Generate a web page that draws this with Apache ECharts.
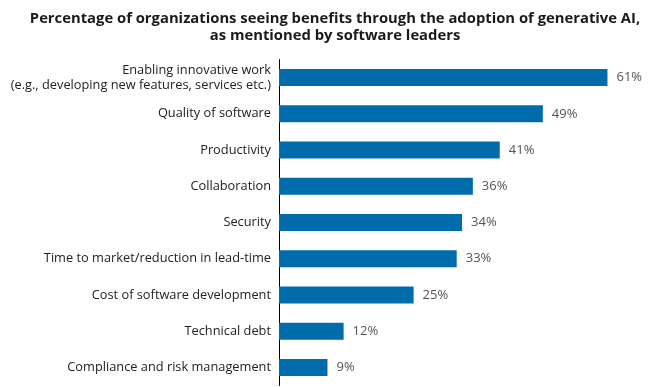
<!DOCTYPE html>
<html><head><meta charset="utf-8">
<script src="https://cdn.jsdelivr.net/npm/echarts@6/dist/echarts.min.js"></script>
<style>html,body{margin:0;padding:0;background:#fff}#c{width:670px;height:387px}</style>
</head><body><div id="c"></div>
<script>
const categories = [
  "Enabling innovative work\n(e.g., developing new features, services etc.)",
  "Quality of software",
  "Productivity",
  "Collaboration",
  "Security",
  "Time to market/reduction in lead-time",
  "Cost of software development",
  "Technical debt",
  "Compliance and risk management"
];
const values = [61, 49, 41, 36, 34, 33, 25, 12, 9];
const titleText = "Percentage of organizations seeing benefits through the adoption of generative AI,\nas mentioned by software leaders";

const chart = echarts.init(document.getElementById('c'));
chart.setOption({
  animation: false,
  title: {
    text: titleText, left: 'center', top: 5,
    textStyle: {fontFamily: 'Open Sans', fontWeight: 'bold', fontSize: 14.8, color: '#1a1a1a', lineHeight: 17}
  },
  grid: {left: 279, right: 41, top: 59.5, bottom: 1.5},
  xAxis: {type: 'value', min: 0, max: 65, show: false},
  yAxis: {
    type: 'category', data: categories, inverse: true,
    axisLine: {show: true, lineStyle: {color: '#000', width: 1}},
    axisTick: {show: false},
    axisLabel: {margin: 8, fontFamily: 'Open Sans', fontSize: 12.8, color: '#222', align: 'right', lineHeight: 15}
  },
  series: [{
    type: 'bar', data: values, barWidth: 17,
    itemStyle: {color: '#006cac'},
    label: {show: true, position: 'right', distance: 9, formatter: '{c}%',
      fontFamily: 'Open Sans', fontSize: 13, color: '#555'}
  }]
});
</script></body></html>
